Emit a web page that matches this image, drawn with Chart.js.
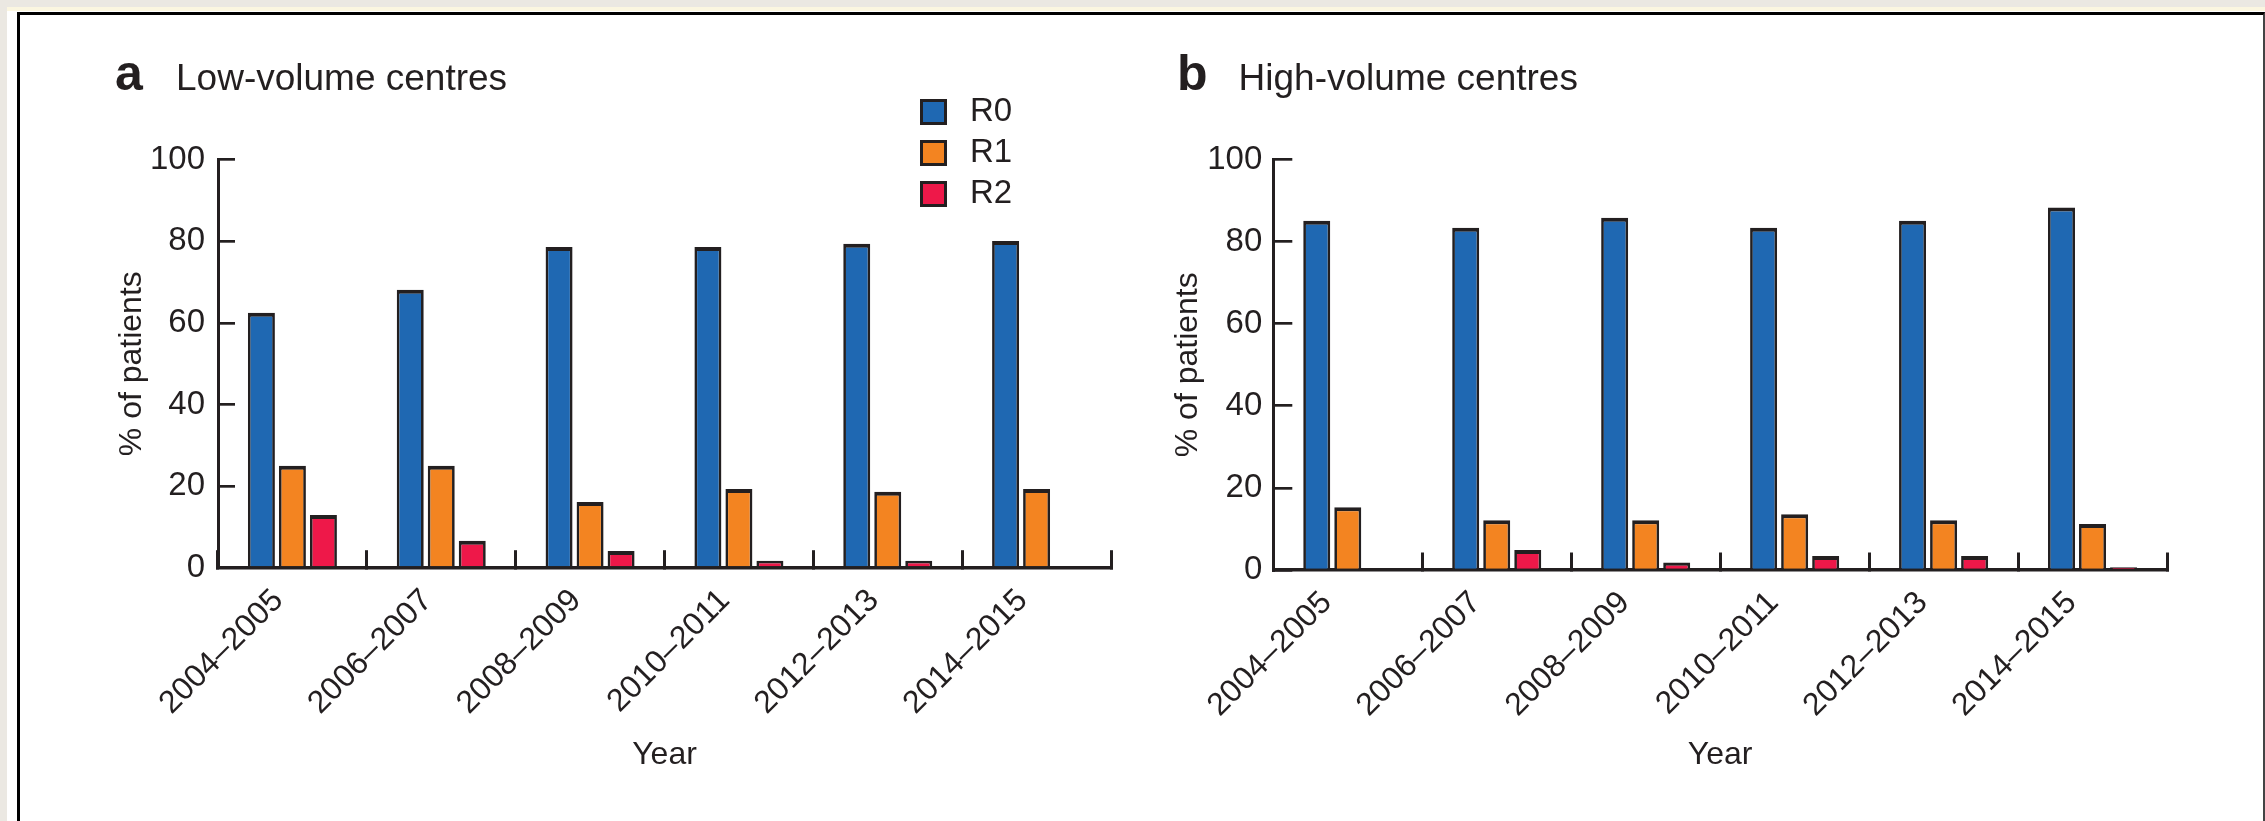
<!DOCTYPE html>
<html>
<head>
<meta charset="utf-8">
<script src="https://cdn.jsdelivr.net/npm/chart.js@4.4.1/dist/chart.umd.min.js"></script>
<style>
html,body{margin:0;padding:0;}
body{width:2265px;height:821px;overflow:hidden;background:#ebe8e2;position:relative;font-family:"Liberation Sans",Arial,Helvetica,sans-serif;color:#231f20;}
#outer{position:absolute;left:7px;top:7px;width:2400px;height:900px;background:#fff;border-top:4px solid #fbf6e0;}
#frame{position:absolute;left:17px;top:11.5px;width:2243px;height:900px;border-left:3.5px solid #000;border-top:3.5px solid #000;border-right:2px solid #444;background:#fff;}
canvas{position:absolute;top:0;}
#ca{left:0;}
#cb{left:1140px;}
.plab{position:absolute;font-weight:bold;font-size:50px;line-height:50px;white-space:nowrap;}
.ptitle{position:absolute;font-size:37px;line-height:37px;white-space:nowrap;}
#legend{position:absolute;left:920px;top:99px;}
.litem{position:absolute;left:0;height:26px;}
.lbox{position:absolute;left:0;top:0;width:26.5px;height:26px;box-sizing:border-box;border:3.5px solid #231f20;}
.ltxt{position:absolute;left:50px;top:-2px;font-size:33px;line-height:26px;white-space:nowrap;}
</style>
</head>
<body>
<div id="outer"></div>
<div id="frame"></div>
<canvas id="ca" width="1140" height="821"></canvas>
<canvas id="cb" width="1125" height="821"></canvas>
<div class="plab" style="left:115px;top:48px;">a</div>
<div class="ptitle" style="left:176px;top:59px;">Low-volume centres</div>
<div class="plab" style="left:1177px;top:48px;">b</div>
<div class="ptitle" style="left:1238.6px;top:59px;">High-volume centres</div>
<div id="legend"></div>
<script>
// ---- data ----
const years = ['2004\u20132005', '2006\u20132007', '2008\u20132009', '2010\u20132011', '2012\u20132013', '2014\u20132015'];
const seriesNames = ['R0', 'R1', 'R2'];
const lowR0 = [62.5, 68.1, 78.6, 78.6, 79.4, 80.1];
const lowR1 = [25.0, 25.0, 16.1, 19.3, 18.6, 19.3];
const lowR2 = [12.9, 6.6, 4.1, 1.7, 1.7, 0];
const highR0 = [85.1, 83.4, 85.8, 83.4, 85.1, 88.3];
const highR1 = [15.3, 12.1, 12.1, 13.6, 12.1, 11.2];
const highR2 = [0, 4.9, 1.8, 3.4, 3.4, 0.7];
const yMin = 0, yMax = 100, yStep = 20;
const xTitle = 'Year';
const yTitle = '% of patients';

const colors = ['#1f68b2', '#f38421', '#ee1849'];
const ink = '#231f20';

Chart.defaults.font.family = '"Liberation Sans", Arial, Helvetica, sans-serif';
Chart.defaults.color = ink;

function makeChart(id, series, g) {
  const datasets = series.map((d, i) => ({
    label: seriesNames[i],
    data: d,
    backgroundColor: colors[i],
    borderColor: ink,
    borderWidth: {top: 4, left: 2.7, right: 2.7, bottom: 0},
    borderSkipped: 'bottom',
    categoryPercentage: 0.625,
    barPercentage: 0.87
  }));
  return new Chart(document.getElementById(id), {
    type: 'bar',
    data: {labels: years, datasets: datasets},
    options: {
      responsive: false,
      animation: false,
      events: [],
      layout: {padding: {left: g.padL, right: g.padR, top: g.padT, bottom: g.padB}},
      plugins: {legend: {display: false}, tooltip: {enabled: false}},
      scales: {
        x: {
          type: 'category',
          offset: true,
          z: 1,
          ticks: {minRotation: 45, maxRotation: 45, autoSkip: false, padding: 31.7, labelOffset: g.labelOffset, font: {size: 32}, color: ink},
          grid: {drawOnChartArea: false, offset: true, drawTicks: true, tickLength: -17.5, lineWidth: 3, color: ink},
          border: {display: true, width: 3.5, color: ink},
          title: {display: true, text: xTitle, font: {size: 32}, padding: 0, color: ink},
          afterFit: s => { s.height = g.xH; }
        },
        y: {
          min: yMin, max: yMax,
          ticks: {stepSize: yStep, padding: g.yTickPad, font: {size: 33}, color: ink},
          grid: {drawOnChartArea: false, drawTicks: true, tickLength: -g.yTickLen, lineWidth: 2.7, color: ink},
          border: {display: true, width: 3, color: ink},
          title: {display: true, text: yTitle, font: {size: 32}, padding: 0, color: ink},
          afterFit: s => { s.width = g.yW; }
        }
      }
    }
  });
}

const chartA = makeChart('ca', [lowR0, lowR1, lowR2],
  {padL: 113, yW: 105, padR: 29, padT: 159.7, xH: 206.5, padB: 46.8, yTickLen: 17, yTickPad: 30, labelOffset: -14});
const chartB = makeChart('cb', [highR0, highR1, highR2],
  {padL: 28.8, yW: 104.5, padR: 98, padT: 159.5, xH: 204.2, padB: 46.8, yTickLen: 19, yTickPad: 30, labelOffset: -21});

// HTML legend generated from panel a's datasets
const legendEl = document.getElementById('legend');
chartA.data.datasets.forEach((ds, i) => {
  const item = document.createElement('div');
  item.className = 'litem';
  item.style.top = (i * 41) + 'px';
  const box = document.createElement('div');
  box.className = 'lbox';
  box.style.background = ds.backgroundColor;
  const txt = document.createElement('div');
  txt.className = 'ltxt';
  txt.textContent = ds.label;
  item.appendChild(box);
  item.appendChild(txt);
  legendEl.appendChild(item);
});
</script>
</body>
</html>
